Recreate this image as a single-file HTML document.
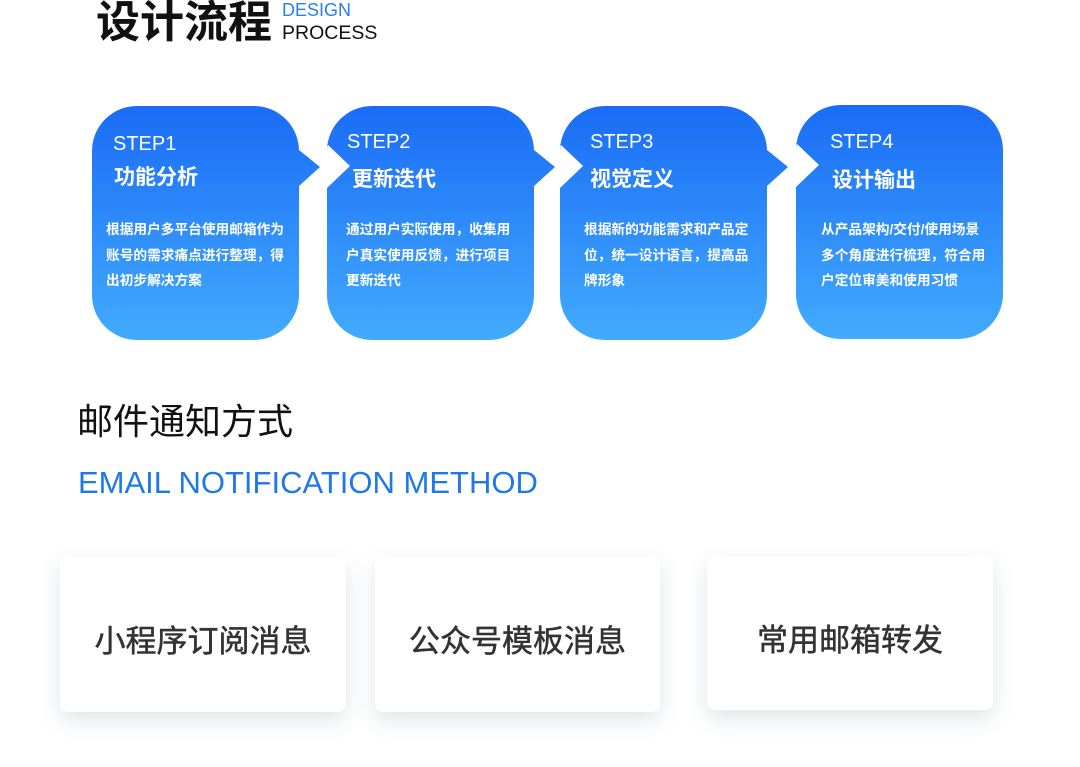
<!DOCTYPE html>
<html><head><meta charset="utf-8"><style>
body{margin:0;width:1080px;height:767px;background:#fff;position:relative;overflow:hidden;font-family:"Liberation Sans","Noto Sans CJK SC",sans-serif}
.a{position:absolute;white-space:nowrap}
.step{color:#fff;font-size:20px;line-height:24px}
.tt{color:#fff;font-size:21px;font-weight:bold;line-height:24px}
.ds{color:#fff;font-size:13.7px;font-weight:bold;line-height:25.5px}
.card{position:absolute;background:#fff;border-radius:8px;box-shadow:0 8px 22px rgba(60,90,110,0.16);font-size:31px;font-weight:normal;-webkit-text-stroke:0.5px #333;color:#333;display:flex;align-items:center;justify-content:center;padding-top:8px;box-sizing:border-box}
</style></head><body>
<div class="a" style="left:96px;top:-5px;font-size:44px;font-weight:bold;color:#111;line-height:56px">设计流程</div>
<div class="a" style="left:282px;top:-1px;font-size:18px;color:#2680f0;line-height:22px">DESIGN</div>
<div class="a" style="left:282px;top:21px;font-size:19.5px;color:#111;line-height:24px">PROCESS</div>
<svg class="a" style="left:0;top:0" width="1080" height="360">
<defs><linearGradient id="g" x1="0" y1="0" x2="0" y2="1"><stop offset="0" stop-color="#1a6cf6"/><stop offset="1" stop-color="#42abfd"/></linearGradient></defs>
<g fill="url(#g)">
<path transform="translate(92,106)" d="M45 0H162A45 45 0 0 1 207 45V44L228 61L207 80V189A45 45 0 0 1 162 234H45A45 45 0 0 1 0 189V45A45 45 0 0 1 45 0Z"/>
<path transform="translate(327,106)" d="M45 0H162A45 45 0 0 1 207 45V44L228 61L207 80V189A45 45 0 0 1 162 234H45A45 45 0 0 1 0 189V82L23 60L0 38V45A45 45 0 0 1 45 0Z"/>
<path transform="translate(560,106)" d="M45 0H162A45 45 0 0 1 207 45V44L228 61L207 80V189A45 45 0 0 1 162 234H45A45 45 0 0 1 0 189V82L23 60L0 38V45A45 45 0 0 1 45 0Z"/>
<path transform="translate(796,105)" d="M45 0H162A45 45 0 0 1 207 45V189A45 45 0 0 1 162 234H45A45 45 0 0 1 0 189V82L23 60L0 38V45A45 45 0 0 1 45 0Z"/>
</g></svg>
<div class="a step" style="left:113px;top:132px">STEP1</div>
<div class="a tt" style="left:114px;top:166px">功能分析</div>
<div class="a ds" style="left:106px;top:217px">根据用户多平台使用邮箱作为<br>账号的需求痛点进行整理，得<br>出初步解决方案</div>
<div class="a step" style="left:347px;top:130px">STEP2</div>
<div class="a tt" style="left:352px;top:168px">更新迭代</div>
<div class="a ds" style="left:346px;top:217px">通过用户实际使用，收集用<br>户真实使用反馈，进行项目<br>更新迭代</div>
<div class="a step" style="left:590px;top:130px">STEP3</div>
<div class="a tt" style="left:590px;top:168px">视觉定义</div>
<div class="a ds" style="left:584px;top:217px">根据新的功能需求和产品定<br>位，统一设计语言，提高品<br>牌形象</div>
<div class="a step" style="left:830px;top:130px">STEP4</div>
<div class="a tt" style="left:832px;top:169px">设计输出</div>
<div class="a ds" style="left:821px;top:217px">从产品架构/交付/使用场景<br>多个角度进行梳理，符合用<br>户定位审美和使用习惯</div>
<div class="a" style="left:77px;top:401px;font-size:36px;color:#111;line-height:42px">邮件通知方式</div>
<div class="a" style="left:78px;top:463px;font-size:31px;color:#1f78e8;line-height:40px">EMAIL NOTIFICATION METHOD</div>
<div class="card" style="left:60px;top:557px;width:286px;height:155px">小程序订阅消息</div>
<div class="card" style="left:375px;top:557px;width:285px;height:155px">公众号模板消息</div>
<div class="card" style="left:707px;top:556px;width:286px;height:154px">常用邮箱转发</div>
</body></html>
